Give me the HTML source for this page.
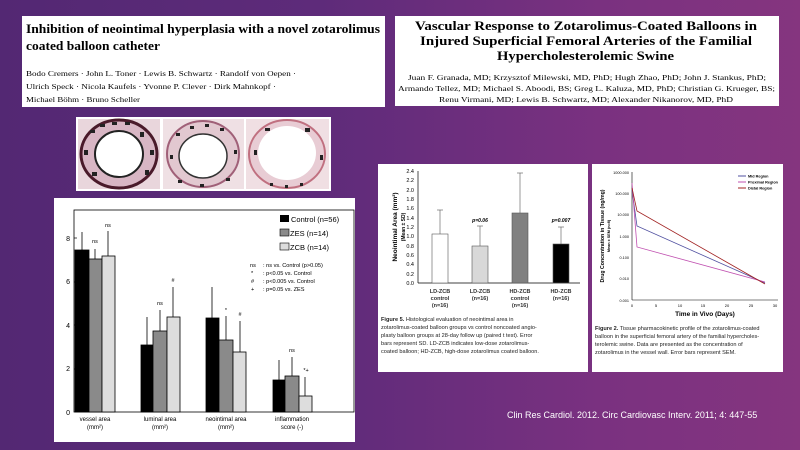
<!DOCTYPE html>
<html><head><meta charset="utf-8"><style>
html,body{margin:0;padding:0;width:800px;height:450px;overflow:hidden}
body{background:linear-gradient(90deg,#532873 0%,#5e2b7a 40%,#7a3180 75%,#85357f 100%)}
svg{position:absolute;left:0;top:0}
.s{font-family:"Liberation Serif",serif}
.a{font-family:"Liberation Sans",sans-serif}
</style></head><body>
<svg width="800" height="450" viewBox="0 0 800 450">
<!-- box1 -->
<rect x="22" y="16" width="363" height="91" fill="#fff"/>
<text class="s" x="26" y="33" font-size="13" font-weight="bold" textLength="354" lengthAdjust="spacingAndGlyphs">Inhibition of neointimal hyperplasia with a novel zotarolimus</text>
<text class="s" x="26" y="50" font-size="13" font-weight="bold" textLength="134" lengthAdjust="spacingAndGlyphs">coated balloon catheter</text>
<text class="s" x="26" y="76" font-size="7.5" textLength="270" lengthAdjust="spacingAndGlyphs">Bodo Cremers · John L. Toner · Lewis B. Schwartz · Randolf von Oepen ·</text>
<text class="s" x="26" y="89" font-size="7.5" textLength="250" lengthAdjust="spacingAndGlyphs">Ulrich Speck · Nicola Kaufels · Yvonne P. Clever · Dirk Mahnkopf ·</text>
<text class="s" x="26" y="102" font-size="7.5" textLength="114" lengthAdjust="spacingAndGlyphs">Michael Böhm · Bruno Scheller</text>
<!-- box2 -->
<rect x="395" y="16" width="384" height="90" fill="#fff"/>
<g class="s" font-size="12.5" font-weight="bold">
<text x="415" y="30" textLength="342" lengthAdjust="spacingAndGlyphs">Vascular Response to Zotarolimus-Coated Balloons in</text>
<text x="420" y="45" textLength="332" lengthAdjust="spacingAndGlyphs">Injured Superficial Femoral Arteries of the Familial</text>
<text x="497" y="60" textLength="177" lengthAdjust="spacingAndGlyphs">Hypercholesterolemic Swine</text></g>
<g class="s" font-size="7">
<text x="408" y="80" textLength="358" lengthAdjust="spacingAndGlyphs">Juan F. Granada, MD; Krzysztof Milewski, MD, PhD; Hugh Zhao, PhD; John J. Stankus, PhD;</text>
<text x="398" y="91" textLength="377" lengthAdjust="spacingAndGlyphs">Armando Tellez, MD; Michael S. Aboodi, BS; Greg L. Kaluza, MD, PhD; Christian G. Krueger, BS;</text>
<text x="439" y="102" textLength="294" lengthAdjust="spacingAndGlyphs">Renu Virmani, MD; Lewis B. Schwartz, MD; Alexander Nikanorov, MD, PhD</text></g>
<!-- histology -->
<rect x="76" y="117" width="255" height="74" fill="#fff"/>
<g>
<rect x="78" y="119" width="82" height="70" fill="#e9d6dc"/>
<ellipse cx="119" cy="154" rx="38" ry="34" fill="#d8b6c4" stroke="#4a1a2a" stroke-width="3"/>
<ellipse cx="119" cy="154" rx="24" ry="23" fill="#fff" stroke="#222" stroke-width="2"/>
<rect x="163" y="119" width="81" height="70" fill="#efe0e4"/>
<ellipse cx="203" cy="154" rx="36" ry="33" fill="#e2c8d0" stroke="#a06078" stroke-width="2"/>
<ellipse cx="203" cy="156" rx="24" ry="22" fill="#fff" stroke="#333" stroke-width="1.5"/>
<rect x="246" y="119" width="83" height="70" fill="#f0dfe3"/>
<ellipse cx="287" cy="154" rx="38" ry="34" fill="#e8ccd4" stroke="#c07080" stroke-width="2"/>
<ellipse cx="287" cy="153" rx="29" ry="27" fill="#fff"/>
<g fill="#222">
<rect x="90" y="130" width="5" height="3"/><rect x="100" y="124" width="5" height="3"/><rect x="112" y="122" width="5" height="3"/><rect x="125" y="122" width="5" height="3"/><rect x="140" y="132" width="4" height="5"/><rect x="150" y="150" width="4" height="5"/><rect x="145" y="170" width="4" height="5"/><rect x="92" y="172" width="5" height="4"/><rect x="84" y="150" width="4" height="5"/>
<rect x="176" y="133" width="4" height="3"/><rect x="190" y="126" width="4" height="3"/><rect x="205" y="124" width="4" height="3"/><rect x="220" y="128" width="4" height="3"/><rect x="234" y="150" width="3" height="4"/><rect x="170" y="155" width="3" height="4"/><rect x="178" y="180" width="4" height="3"/><rect x="200" y="184" width="4" height="3"/><rect x="226" y="178" width="4" height="3"/>
<rect x="265" y="128" width="5" height="3"/><rect x="305" y="128" width="5" height="4"/><rect x="320" y="155" width="3" height="5"/><rect x="254" y="150" width="3" height="5"/><rect x="270" y="183" width="3" height="3"/><rect x="285" y="185" width="3" height="3"/><rect x="300" y="183" width="3" height="3"/></g>
</g>
<!-- main chart -->
<rect x="54" y="198" width="301" height="244" fill="#fff"/>
<g class="a" font-size="7">
<rect x="74" y="210" width="280" height="202" fill="none" stroke="#000" stroke-width="0.8"/>
<g text-anchor="end"><text x="70" y="415">0</text><text x="70" y="371">2</text><text x="70" y="328">4</text><text x="70" y="284">6</text><text x="70" y="241">8</text></g>
<g stroke="#000" stroke-width="0.7"><line x1="74" y1="369" x2="77" y2="369"/><line x1="74" y1="325" x2="77" y2="325"/><line x1="74" y1="282" x2="77" y2="282"/><line x1="74" y1="238" x2="77" y2="238"/></g>
<g stroke="#000" stroke-width="0.8">
<line x1="82" y1="250" x2="82" y2="232"/><line x1="95" y1="259" x2="95" y2="249"/><line x1="108" y1="257" x2="108" y2="231"/>
<line x1="147" y1="345" x2="147" y2="317"/><line x1="160" y1="331" x2="160" y2="310"/><line x1="173" y1="317" x2="173" y2="287"/>
<line x1="212" y1="318" x2="212" y2="287"/><line x1="226" y1="340" x2="226" y2="316"/><line x1="240" y1="352" x2="240" y2="321"/>
<line x1="279" y1="380" x2="279" y2="360"/><line x1="292" y1="376" x2="292" y2="357"/><line x1="305" y1="396" x2="305" y2="377"/></g>
<g stroke="#000" stroke-width="0.8">
<rect x="75" y="250" width="14" height="162" fill="#000"/><rect x="89" y="259" width="13" height="153" fill="#8a8a8a"/><rect x="102" y="256" width="13" height="156" fill="#ddd"/>
<rect x="141" y="345" width="12" height="67" fill="#000"/><rect x="153" y="331" width="14" height="81" fill="#8a8a8a"/><rect x="167" y="317" width="13" height="95" fill="#ddd"/>
<rect x="206" y="318" width="13" height="94" fill="#000"/><rect x="219" y="340" width="14" height="72" fill="#8a8a8a"/><rect x="233" y="352" width="13" height="60" fill="#ddd"/>
<rect x="273" y="380" width="12" height="32" fill="#000"/><rect x="285" y="376" width="14" height="36" fill="#8a8a8a"/><rect x="299" y="396" width="13" height="16" fill="#ddd"/></g>
<g font-size="5.5" text-anchor="middle"><text x="95" y="243">ns</text><text x="108" y="227">ns</text><text x="160" y="305">ns</text><text x="173" y="282">#</text><text x="226" y="312">*</text><text x="240" y="316">#</text><text x="292" y="352">ns</text><text x="306" y="372">*+</text></g>
<g font-size="6" text-anchor="middle"><text x="95" y="421">vessel area</text><text x="95" y="429">(mm²)</text><text x="160" y="421">luminal area</text><text x="160" y="429">(mm²)</text><text x="226" y="421">neointimal area</text><text x="226" y="429">(mm²)</text><text x="292" y="421">inflammation</text><text x="292" y="429">score (-)</text></g>
<rect x="280" y="215" width="9" height="7" fill="#000"/><text x="291" y="222" font-size="7.5">Control (n=56)</text>
<rect x="280" y="229" width="9" height="7" fill="#8a8a8a" stroke="#000" stroke-width="0.6"/><text x="290" y="236" font-size="7.5">ZES (n=14)</text>
<rect x="280" y="243" width="9" height="7" fill="#ddd" stroke="#000" stroke-width="0.6"/><text x="290" y="250" font-size="7.5">ZCB (n=14)</text>
<g font-size="5.6"><text x="250" y="267">ns</text><text x="263" y="267">: ns vs. Control (p&gt;0.05)</text>
<text x="251" y="275">*</text><text x="263" y="275">: p&lt;0.05 vs. Control</text>
<text x="251" y="283">#</text><text x="263" y="283">: p&lt;0.005 vs. Control</text>
<text x="251" y="291">+</text><text x="263" y="291">: p=0.05 vs. ZES</text></g>
</g>
<!-- fig5 -->
<rect x="378" y="164" width="210" height="208" fill="#fff"/>
<g class="a">
<line x1="418" y1="171" x2="418" y2="283" stroke="#000" stroke-width="0.7"/>
<line x1="418" y1="283" x2="580" y2="283" stroke="#000" stroke-width="0.7"/>
<g font-size="5.5" text-anchor="end">
<text x="414" y="285">0.0</text><text x="414" y="276">0.2</text><text x="414" y="266">0.4</text><text x="414" y="257">0.6</text><text x="414" y="248">0.8</text><text x="414" y="238">1.0</text><text x="414" y="229">1.2</text><text x="414" y="220">1.4</text><text x="414" y="210">1.6</text><text x="414" y="201">1.8</text><text x="414" y="192">2.0</text><text x="414" y="182">2.2</text><text x="414" y="173">2.4</text></g>
<g stroke="#555" stroke-width="0.6"><line x1="440" y1="234" x2="440" y2="210"/><line x1="480" y1="246" x2="480" y2="226"/><line x1="520" y1="213" x2="520" y2="173"/><line x1="561" y1="244" x2="561" y2="227"/>
<line x1="437" y1="210" x2="443" y2="210"/><line x1="477" y1="226" x2="483" y2="226"/><line x1="517" y1="173" x2="523" y2="173"/><line x1="558" y1="227" x2="564" y2="227"/></g>
<g stroke="#555" stroke-width="0.6"><rect x="432" y="234" width="16" height="49" fill="#fff"/><rect x="472" y="246" width="16" height="37" fill="#d8d8d8"/><rect x="512" y="213" width="16" height="70" fill="#808080"/><rect x="553" y="244" width="16" height="39" fill="#000"/></g>
<g font-size="5" font-style="italic" font-weight="bold" text-anchor="middle"><text x="480" y="222">p=0.06</text><text x="561" y="222">p=0.007</text></g>
<text transform="translate(397,227) rotate(-90)" font-size="6.5" font-weight="bold" text-anchor="middle">Neointimal Area (mm²)</text>
<text transform="translate(405,227) rotate(-90)" font-size="5" font-weight="bold" text-anchor="middle">(Mean ± SD)</text>
<g font-size="5.5" font-weight="bold" text-anchor="middle" fill="#333"><text x="440" y="293">LD-ZCB</text><text x="440" y="300">control</text><text x="440" y="307">(n=16)</text><text x="480" y="293">LD-ZCB</text><text x="480" y="300">(n=16)</text><text x="520" y="293">HD-ZCB</text><text x="520" y="300">control</text><text x="520" y="307">(n=16)</text><text x="561" y="293">HD-ZCB</text><text x="561" y="300">(n=16)</text></g>
<g font-size="5.6" fill="#222"><text x="381" y="321"><tspan font-weight="bold">Figure 5.</tspan> Histological evaluation of neointimal area in</text><text x="381" y="329">zotarolimus-coated balloon groups vs control noncoated angio-</text><text x="381" y="337">plasty balloon groups at 28-day follow up (paired t test). Error</text><text x="381" y="345">bars represent SD. LD-ZCB indicates low-dose zotarolimus-</text><text x="381" y="353">coated balloon; HD-ZCB, high-dose zotarolimus coated balloon.</text></g>
</g>
<!-- fig2 -->
<rect x="592" y="164" width="191" height="208" fill="#fff"/>
<g class="a">
<line x1="632" y1="172" x2="632" y2="300" stroke="#000" stroke-width="0.6"/>
<line x1="632" y1="300" x2="778" y2="300" stroke="#000" stroke-width="0.6"/>
<g font-size="3.8" text-anchor="end"><text x="629" y="174">1000.000</text><text x="629" y="195">100.000</text><text x="629" y="216">10.000</text><text x="629" y="238">1.000</text><text x="629" y="259">0.100</text><text x="629" y="280">0.010</text><text x="629" y="302">0.001</text></g>
<g font-size="4" text-anchor="middle"><text x="632" y="307">0</text><text x="656" y="307">5</text><text x="680" y="307">10</text><text x="703" y="307">15</text><text x="727" y="307">20</text><text x="751" y="307">25</text><text x="775" y="307">30</text></g>
<text x="705" y="316" font-size="6.5" font-weight="bold" text-anchor="middle">Time in Vivo (Days)</text>
<text transform="translate(604,236) rotate(-90)" font-size="5.2" font-weight="bold" text-anchor="middle">Drug Concentration in Tissue (ng/mg)</text>
<text transform="translate(610,236) rotate(-90)" font-size="3.8" font-weight="bold" text-anchor="middle">Mean ± SEM (n=8)</text>
<polyline points="632,190 637,226 765,283" fill="none" stroke="#5050a0" stroke-width="0.8"/>
<polyline points="632,183 637,247 765,282" fill="none" stroke="#c050b0" stroke-width="0.8"/>
<polyline points="632,188 637,211 765,284" fill="none" stroke="#a02020" stroke-width="0.8"/>
<g font-size="3.8" font-weight="bold"><line x1="738" y1="176" x2="746" y2="176" stroke="#5050a0"/><text x="748" y="177.5">Mid Region</text><line x1="738" y1="182" x2="746" y2="182" stroke="#c050b0"/><text x="748" y="183.5">Proximal Region</text><line x1="738" y1="188" x2="746" y2="188" stroke="#a02020"/><text x="748" y="189.5">Distal Region</text></g>
<g font-size="5.6" fill="#222"><text x="595" y="330"><tspan font-weight="bold">Figure 2.</tspan> Tissue pharmacokinetic profile of the zotarolimus-coated</text><text x="595" y="338">balloon in the superficial femoral artery of the familial hypercholes-</text><text x="595" y="346">terolemic swine. Data are presented as the concentration of</text><text x="595" y="354">zotarolimus in the vessel wall. Error bars represent SEM.</text></g>
</g>
<text class="a" x="507" y="418" font-size="9" fill="#fff">Clin Res Cardiol. 2012. Circ Cardiovasc Interv. 2011; 4: 447-55</text>
</svg>
</body></html>
